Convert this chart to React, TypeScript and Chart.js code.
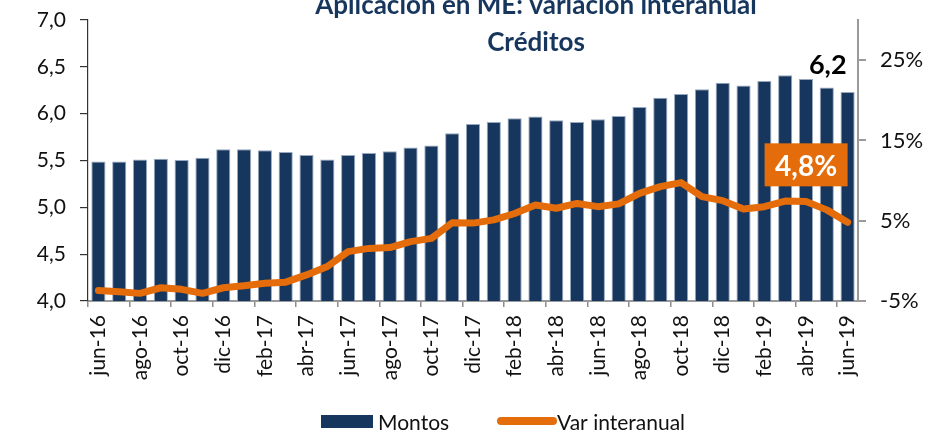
import React, { useEffect, useRef } from "react";
import { Chart, registerables } from "chart.js";

Chart.register(...registerables);

const categories = [
  "jun-16","jul-16","ago-16","sep-16","oct-16","nov-16","dic-16","ene-17","feb-17","mar-17","abr-17","may-17",
  "jun-17","jul-17","ago-17","sep-17","oct-17","nov-17","dic-17","ene-18","feb-18","mar-18","abr-18","may-18",
  "jun-18","jul-18","ago-18","sep-18","oct-18","nov-18","dic-18","ene-19","feb-19","mar-19","abr-19","may-19","jun-19",
];

const montos = [
  5.49, 5.49, 5.51, 5.52, 5.505, 5.53, 5.62, 5.62, 5.61, 5.59, 5.56, 5.51,
  5.56, 5.58, 5.60, 5.64, 5.66, 5.79, 5.89, 5.91, 5.95, 5.97, 5.93, 5.91,
  5.94, 5.975, 6.07, 6.17, 6.21, 6.26, 6.33, 6.30, 6.35, 6.41, 6.37, 6.28, 6.23,
];

const varInteranual = [
  -3.7, -3.85, -4.05, -3.35, -3.55, -4.05, -3.35, -3.1, -2.8, -2.65, -1.75, -0.7,
  1.15, 1.55, 1.65, 2.4, 2.8, 4.75, 4.7, 5.1, 5.9, 6.95, 6.55, 7.15,
  6.75, 7.1, 8.4, 9.25, 9.75, 8.0, 7.5, 6.45, 6.75, 7.45, 7.4, 6.35, 4.8,
];

const leftTicks = [4.0, 4.5, 5.0, 5.5, 6.0, 6.5, 7.0];
const rightTicks = [-5, 5, 15, 25];

const titleLines = ["Aplicación en ME: variación interanual", "Créditos"];
const lastMontoLabel = "6,2";
const lastVarLabel = "4,8%";
const legendLabels = ["Montos", "Var interanual"];

const NAVY = "#17365d";
const ORANGE = "#e46c0a";
const FONT = "Lato, 'Open Sans', sans-serif";

const fmtComma = (v: number, d: number) => v.toFixed(d).replace(".", ",");

const noPad = (s: any) => {
  s.paddingTop = 0;
  s.paddingBottom = 0;
  s.paddingLeft = 0;
  s.paddingRight = 0;
};

export default function App() {
  const canvasRef = useRef<HTMLCanvasElement | null>(null);

  useEffect(() => {
    const canvas = canvasRef.current;
    if (!canvas) return;

    const overlay = {
      id: "overlay",
      afterDraw(chart: any) {
        const ctx = chart.ctx;
        const x = chart.scales.x;
        const y = chart.scales.y;
        const y2 = chart.scales.y2;
        ctx.save();
        // title
        ctx.fillStyle = NAVY;
        ctx.font = `bold 26px ${FONT}`;
        ctx.textAlign = "center";
        ctx.textBaseline = "alphabetic";
        ctx.fillText(titleLines[0], 536, 14);
        ctx.fillText(titleLines[1], 536, 51);

        // last bar label
        const n = montos.length - 1;
        const bx = x.getPixelForValue(n);
        const by = y.getPixelForValue(montos[n]);
        ctx.fillStyle = "#000";
        ctx.font = `bold 27px ${FONT}`;
        ctx.textAlign = "right";
        ctx.fillText(lastMontoLabel, bx - 1, by - 18);

        // last line label box
        const ly = y2.getPixelForValue(varInteranual[n]);
        const boxR = bx;
        const boxW = 83;
        const boxH = 43;
        const boxT = ly - 79;
        ctx.fillStyle = ORANGE;
        ctx.fillRect(boxR - boxW, boxT, boxW, boxH);
        ctx.fillStyle = "#fff";
        ctx.font = `bold 28px ${FONT}`;
        ctx.textAlign = "center";
        ctx.fillText(lastVarLabel, boxR - boxW / 2, boxT + 33);

        // legend
        ctx.fillStyle = NAVY;
        ctx.fillRect(321, 415, 52, 13);
        ctx.fillStyle = "#111";
        ctx.font = `21px ${FONT}`;
        ctx.textAlign = "left";
        ctx.fillText(legendLabels[0], 378, 430);
        ctx.strokeStyle = ORANGE;
        ctx.lineWidth = 8;
        ctx.lineCap = "round";
        ctx.beginPath();
        ctx.moveTo(501, 421);
        ctx.lineTo(553, 421);
        ctx.stroke();
        ctx.fillText(legendLabels[1], 557, 430);
        ctx.restore();
      },
    };

    const chart = new Chart(canvas, {
      type: "bar",
      data: {
        labels: categories,
        datasets: [
          {
            type: "line",
            label: legendLabels[1],
            data: varInteranual,
            yAxisID: "y2",
            borderColor: ORANGE,
            backgroundColor: ORANGE,
            borderWidth: 7,
            pointRadius: 0,
            tension: 0,
            borderJoinStyle: "round",
            borderCapStyle: "round",
            order: 0,
          } as any,
          {
            type: "bar",
            label: legendLabels[0],
            data: montos,
            yAxisID: "y",
            backgroundColor: NAVY,
            borderColor: "rgba(140,158,185,0.9)",
            borderWidth: 1,
            barPercentage: 0.68,
            categoryPercentage: 1,
            order: 1,
          } as any,
        ],
      },
      options: {
        animation: false,
        responsive: false,
        maintainAspectRatio: false,
        layout: { padding: { top: 20, left: 0, right: 0, bottom: 0 } },
        plugins: {
          legend: { display: false },
          title: { display: false },
          tooltip: { enabled: false },
        },
        scales: {
          x: {
            type: "category",
            offset: true,
            afterFit: (s: any) => { s.height = 134; noPad(s); },
            grid: {
              display: true,
              drawOnChartArea: false,
              drawTicks: true,
              tickLength: 6,
              offset: true,
              lineWidth: 1.5,
              color: (c: any) => (c.index % 2 === 0 ? "#8c8c8c" : "rgba(0,0,0,0)"),
            },
            border: { display: true, color: "#9a9a9a", width: 2 },
            ticks: {
              autoSkip: false,
              maxRotation: 90,
              minRotation: 90,
              padding: 8,
              color: "#111",
              font: { family: FONT, size: 21 },
              callback: (_v: any, i: number) => (i % 2 === 0 ? categories[i] : ""),
            },
          },
          y: {
            position: "left",
            min: 4,
            max: 7,
            afterFit: (s: any) => { s.width = 88; noPad(s); },
            afterBuildTicks: (s: any) => { s.ticks = leftTicks.map((v) => ({ value: v })); },
            grid: { drawOnChartArea: false, drawTicks: true, tickLength: 8, color: "#333", lineWidth: 1.2 },
            border: { display: true, color: "#333", width: 1.2 },
            ticks: {
              padding: 14,
              color: "#111",
              font: { family: FONT, size: 21 },
              callback: (v: any) => fmtComma(Number(v), 1),
            },
          },
          y2: {
            position: "right",
            min: -5,
            max: 30,
            afterFit: (s: any) => { s.width = 77; noPad(s); },
            afterBuildTicks: (s: any) => { s.ticks = rightTicks.map((v) => ({ value: v })); },
            grid: { drawOnChartArea: false, drawTicks: true, tickLength: 8, color: "#9a9a9a", lineWidth: 2 },
            border: { display: true, color: "#9a9a9a", width: 2 },
            ticks: {
              padding: 14,
              color: "#111",
              font: { family: FONT, size: 22 },
              callback: (v: any) => `${v}%`,
            },
          },
        },
      } as any,
      plugins: [overlay],
    });

    return () => chart.destroy();
  }, []);

  return (
    <div style={{ position: "fixed", left: 0, top: 0, width: 935, height: 435, background: "#fff" }}>
      <canvas ref={canvasRef} width={935} height={435} style={{ width: 935, height: 435, display: "block" }} />
    </div>
  );
}
